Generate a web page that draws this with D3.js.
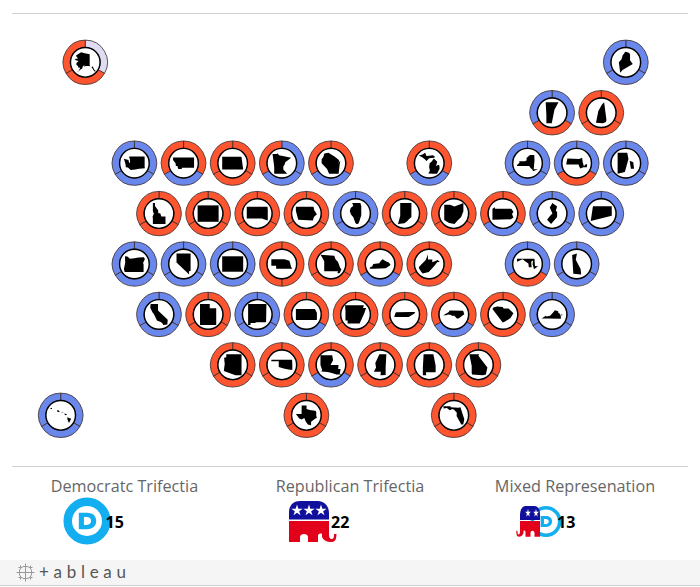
<!DOCTYPE html>
<html>
<head>
<meta charset="utf-8">
<script src="https://d3js.org/d3.v7.min.js"></script>
<style>
  html, body { margin: 0; padding: 0; background: #fff; }
  svg { display: block; }
</style>
</head>
<body>
<svg id="chart" width="700" height="587"></svg>
<script>
// tile map: half-column and row of every state, plus party of each ring segment
var stateCodes = ['AK','ME','VT','NH','WA','MT','ND','MN','WI','MI','NY','MA','RI','ID','WY','SD','IA','IL','IN','OH','PA','NJ','CT','OR','NV','CO','NE','MO','KY','WV','MD','DE','CA','UT','NM','KS','AR','TN','NC','SC','VA','AZ','OK','LA','MS','AL','GA','HI','TX','FL'];
var gridCols   = [1,23,20,22,3,5,7,9,11,15,19,21,23,4,6,8,10,12,14,16,18,20,22,3,5,7,9,11,13,15,19,21,4,6,8,10,12,14,16,18,20,7,9,11,13,15,17,0,10,16];
var gridRows   = [0,0,1,1,2,2,2,2,2,2,2,2,2,3,3,3,3,3,3,3,3,3,3,4,4,4,4,4,4,4,4,4,5,5,5,5,5,5,5,5,5,6,6,6,6,6,6,7,7,7];
var firstArc   = ['I','D','D','R','D','R','R','D','R','R','D','D','D','R','R','R','R','D','R','R','R','D','D','D','D','D','R','R','R','R','D','D','D','R','D','R','R','R','R','R','D','R','R','R','R','R','R','D','R','R'];
var secondArc  = ['R','D','R','R','D','D','R','D','D','D','D','R','D','R','R','R','R','D','R','R','D','D','D','D','D','D','R','R','D','R','R','D','D','R','D','D','R','R','D','R','D','R','R','D','R','R','R','D','R','R'];
var thirdArc   = ['R','D','D','R','D','R','R','R','R','R','D','D','D','R','R','R','R','D','R','R','R','D','D','D','D','D','','R','R','R','D','D','D','R','D','R','R','R','R','R','D','R','R','R','R','R','R','D','R','R'];

var legendTitles = ['Democratc Trifectia', 'Republican Trifectia', 'Mixed Represenation'];
var legendCounts = [15, 22, 13];

// state silhouettes, lon/lat rings
var outlines = {
  AK: [[[-141,69.6],[-141,60.3],[-137.5,58.9],[-135.5,59.7],[-133,57],[-130,55.9],[-131.5,55.2],[-134,56.5],[-136.5,58.3],[-139.5,59.7],[-144,60],[-148,60],[-151.5,59.3],[-150.2,61],[-153.5,59.5],[-154.5,58],[-157.5,57],[-163,55],[-164.5,54.7],[-161,56],[-158,58.5],[-162,58.7],[-162,60],[-165,60.8],[-165,62.5],[-161,64],[-166,64.6],[-168,65.7],[-162,66.2],[-166,68.3],[-163,69.5],[-156.5,71.3],[-150,70.5]]],
  ME: [[[-71.1,45.3],[-70.3,45.9],[-70,46.7],[-69.2,47.45],[-68.3,47.3],[-67.8,47],[-67.8,45.7],[-67,44.9],[-68.5,44.3],[-70,43.7],[-70.7,43.1]]],
  VT: [[[-73.4,45],[-71.5,45],[-72.1,44.2],[-72.5,42.75],[-73.3,42.75],[-73.3,43.6]]],
  NH: [[[-71.5,45],[-71.1,45.3],[-70.7,43.1],[-70.8,42.85],[-71.3,42.7],[-72.5,42.75],[-72.1,44.2]]],
  WA: [[[-124.7,48.4],[-123,48.1],[-122.7,47.3],[-122.4,47.5],[-122.5,48.3],[-122.8,49],[-117,49],[-117,46.4],[-116.9,46],[-119,45.9],[-120.5,45.7],[-122.2,45.6],[-123.2,46.2],[-124,46.3],[-124.1,47]]],
  MT: [[[-116,49],[-104,49],[-104,45],[-111,45],[-111,44.5],[-113,44.5],[-113.5,45.6],[-114.4,45.6],[-114.5,46.6],[-116,48]]],
  ND: [[[-104,49],[-97.2,49],[-96.6,46],[-104,46]]],
  MN: [[[-97.2,49],[-95.2,49],[-95.2,49.4],[-94.6,48.7],[-92.5,48.4],[-89.6,48],[-92,46.7],[-92.3,46],[-92.8,45.5],[-92.8,44.7],[-91.2,43.5],[-96.5,43.5],[-96.5,45.3],[-96.6,46]]],
  WI: [[[-92,46.7],[-90.8,46.9],[-89,46.1],[-87.8,45.4],[-87.6,45.1],[-88,44.6],[-87.3,45.2],[-87.5,44.3],[-87.8,42.5],[-90.6,42.5],[-91.2,43.5],[-92.8,44.7],[-92.8,45.5],[-92.3,46]]],
  MI: [[[-86.8,41.76],[-84.8,41.7],[-83.5,41.7],[-83.1,42.2],[-82.5,43],[-82.6,43.9],[-83,44.1],[-83.9,43.7],[-83.4,44.9],[-84.7,45.8],[-85.5,45],[-86.3,44.5],[-86.5,43.5],[-86.2,42.5]],
       [[-90.4,46.6],[-89,46.9],[-88,47.4],[-87.5,46.5],[-85,46.7],[-84.2,46.2],[-84.7,46],[-86.5,45.9],[-87.6,45.1],[-87.8,45.4],[-89,46.1]]],
  NY: [[[-79.8,42],[-79.8,42.3],[-78.9,42.9],[-79,43.3],[-76.8,43.3],[-76.2,43.6],[-76.3,44.2],[-75,45],[-73.4,45],[-73.3,43.6],[-73.5,42],[-73.6,41.1],[-72,41.1],[-73.9,40.55],[-74,41],[-74.7,41.4],[-75.3,42]]],
  MA: [[[-73.5,42],[-73.3,42.75],[-71.3,42.7],[-70.8,42.85],[-70.7,42.3],[-70.5,41.8],[-70.2,42.05],[-69.95,42.05],[-70,41.65],[-70.6,41.65],[-71.1,41.5],[-71.3,41.75],[-71.4,42],[-71.8,42]]],
  RI: [[[-71.8,42],[-71.4,42],[-71.35,41.8],[-71.5,41.4],[-71.8,41.35]],[[-71.3,41.75],[-71.15,41.7],[-71.12,41.5],[-71.25,41.5]]],
  ID: [[[-117,49],[-116,49],[-116,48],[-114.5,46.6],[-114.4,45.6],[-113.5,45.6],[-113,44.5],[-111,44.5],[-111,42],[-117,42],[-117,44],[-117.2,44.4],[-116.5,45.5],[-116.9,46],[-117,46.4]]],
  WY: [[[-111,45],[-104,45],[-104,41],[-111,41]]],
  SD: [[[-104,46],[-96.6,46],[-96.5,45.3],[-96.5,42.5],[-97.9,42.8],[-98.5,43],[-104,43]]],
  IA: [[[-96.5,43.5],[-91.2,43.5],[-91,42.7],[-90.2,41.8],[-91.1,41.2],[-91.4,40.4],[-95.8,40.6],[-96.5,42.5]]],
  IL: [[[-90.6,42.5],[-87.8,42.5],[-87.5,41.7],[-87.5,39.3],[-87.9,38.3],[-88.1,37.8],[-88.5,37.1],[-89.1,37],[-89.5,37.3],[-90.2,38.8],[-91,39.5],[-91.4,40.4],[-91.1,41.2],[-90.2,41.8]]],
  IN: [[[-87.5,41.7],[-84.8,41.7],[-84.8,39.1],[-85.4,38.7],[-85.9,38.3],[-86.5,37.95],[-88.05,37.8],[-87.5,39.3]]],
  OH: [[[-84.8,41.7],[-83.5,41.7],[-82.5,41.4],[-81.2,41.8],[-80.5,42],[-80.5,40.6],[-81,39.6],[-81.8,39],[-82.5,38.4],[-83.7,38.6],[-84.8,39.1]]],
  PA: [[[-80.5,42],[-79.8,42.3],[-79.8,42],[-75.3,42],[-74.7,41.4],[-75.1,40.9],[-74.7,40.2],[-75.4,39.8],[-80.5,39.7]]],
  NJ: [[[-74.7,41.4],[-74,41],[-74.2,40.5],[-74,40.4],[-74,39.8],[-74.9,39],[-75.5,39.5],[-75.1,39.9],[-74.7,40.2],[-75.1,40.9]]],
  CT: [[[-73.5,42],[-71.8,42],[-71.8,41.35],[-73.7,41]]],
  OR: [[[-124.1,46.3],[-123.2,46.2],[-122.2,45.6],[-120.5,45.7],[-119,45.9],[-116.9,46],[-116.5,45.5],[-117.2,44.4],[-117,44],[-117,42],[-124.2,42],[-124.5,42.8],[-124,44.5]]],
  NV: [[[-120,42],[-114,42],[-114,36.2],[-114.7,36.1],[-114.6,35],[-120,39]]],
  CO: [[[-109,41],[-102,41],[-102,37],[-109,37]]],
  NE: [[[-104,43],[-98.5,43],[-97.9,42.8],[-96.5,42.5],[-95.8,40.6],[-95.3,40],[-102,40],[-102,41],[-104,41]]],
  MO: [[[-95.8,40.6],[-91.4,40.4],[-91,39.5],[-90.2,38.8],[-89.5,37.3],[-89.1,37],[-89.7,36],[-90.4,36],[-90.2,36.5],[-94.6,36.5],[-94.6,39],[-95.3,40]]],
  KY: [[[-89.4,36.5],[-88,36.5],[-83.7,36.6],[-82,37.5],[-82.6,38.2],[-83.7,38.6],[-84.8,39.1],[-85.4,38.7],[-86,38],[-88.1,37.8],[-88.5,37.1],[-89.1,37]]],
  WV: [[[-82.6,38.2],[-82,37.5],[-81.7,37.2],[-80.3,37.5],[-79,38.6],[-78.4,39.2],[-77.8,39.3],[-78.3,39.6],[-79.5,39.2],[-79.5,39.7],[-80.5,39.7],[-80.5,40.6],[-81,39.6],[-81.8,39],[-82.5,38.4]]],
  MD: [[[-79.5,39.7],[-75.8,39.7],[-75.7,38.5],[-75.05,38.45],[-75.9,37.95],[-76.2,38.8],[-76.1,39.4],[-76.5,39.2],[-76.4,38.3],[-77,38.3],[-77.1,38.9],[-77.8,39.3],[-78.3,39.6],[-79.5,39.2]]],
  DE: [[[-75.8,39.7],[-75.4,39.8],[-75.5,39.4],[-75.1,38.8],[-75.05,38.45],[-75.7,38.5]]],
  CA: [[[-124.2,42],[-120,42],[-120,39],[-114.6,35],[-114.5,34.5],[-114.7,32.7],[-117.1,32.5],[-117.3,33],[-118.4,33.8],[-119.2,34.1],[-120.6,34.5],[-121.8,36.5],[-122.5,37.6],[-123,38],[-123.8,39.3],[-124.4,40.3]]],
  UT: [[[-114,42],[-111,42],[-111,41],[-109,41],[-109,37],[-114,37]]],
  NM: [[[-109,37],[-103,37],[-103.1,32],[-106.6,32],[-106.5,31.8],[-108.2,31.8],[-108.2,31.3],[-109,31.3]]],
  KS: [[[-102,40],[-95.3,40],[-94.6,39],[-94.6,37],[-102,37]]],
  AR: [[[-94.6,36.5],[-90.2,36.5],[-90.4,36],[-89.7,36],[-90.1,35],[-91.2,33],[-94,33],[-94,33.6],[-94.5,33.6],[-94.5,35.4]]],
  TN: [[[-89.7,36],[-89.4,36.5],[-83.7,36.6],[-81.7,36.6],[-82,36.1],[-84.3,35],[-90.1,35]]],
  NC: [[[-84.3,35],[-83.1,35],[-82.3,35.2],[-81,35.1],[-80.8,34.8],[-79.7,34.8],[-78.6,33.9],[-77.9,33.9],[-76.5,34.7],[-75.5,35.3],[-76,36.55],[-81.7,36.6],[-82,36.1]]],
  SC: [[[-83.1,35],[-82.3,35.2],[-81,35.1],[-80.8,34.8],[-79.7,34.8],[-78.6,33.9],[-79.3,33],[-80.7,32.3],[-81,32.2],[-83.3,34.7]]],
  VA: [[[-83.7,36.6],[-81.7,36.6],[-76,36.55],[-76,37.2],[-76.3,38],[-77,38.4],[-77.1,38.9],[-78.4,39.2],[-79,38.6],[-80.3,37.5],[-81.7,37.2],[-82,37.5]],
       [[-75.9,37.2],[-75.3,38],[-75.7,37.9]]],
  AZ: [[[-114.7,36.1],[-114,36.2],[-114,37],[-109,37],[-109,31.3],[-111,31.3],[-114.8,32.5],[-114.5,34.5],[-114.6,35]]],
  OK: [[[-103,37],[-94.6,37],[-94.5,35.4],[-94.5,33.6],[-96,33.8],[-98,34.1],[-100,34.6],[-100,36.5],[-103,36.5]]],
  LA: [[[-94,33],[-91.2,33],[-91,32],[-91.6,31],[-89.7,31],[-89.8,30.2],[-89.2,30.2],[-89.4,29.3],[-89,29.1],[-90.2,29.1],[-91.3,29.4],[-92.3,29.6],[-93.8,29.7],[-93.6,30],[-94,31]]],
  MS: [[[-91.2,33],[-90.1,35],[-88.2,35],[-88.4,32],[-88.4,30.3],[-89.8,30.2],[-89.7,31],[-91.6,31],[-91,32]]],
  AL: [[[-88.2,35],[-85.6,35],[-85,32.5],[-85,31],[-87.6,31],[-87.5,30.3],[-88.4,30.3],[-88.4,32]]],
  GA: [[[-85.6,35],[-83.1,35],[-83.3,34.7],[-81,32.2],[-81.4,30.7],[-82.2,30.5],[-84.9,30.7],[-85,31],[-85,32.5]]],
  HI: [[[-156,20.2],[-155.1,19.9],[-155.6,19],[-155.9,19.6]],[[-156.7,20.9],[-156.3,20.95],[-156,20.7],[-156.4,20.6]],[[-157.3,21.2],[-156.7,21.15],[-157.2,21.1]],[[-158.3,21.55],[-158,21.7],[-157.65,21.3],[-158.1,21.3]],[[-159.8,22.1],[-159.4,22.2],[-159.4,21.9],[-159.7,21.9]]],
  TX: [[[-106.6,32],[-103.1,32],[-103,36.5],[-100,36.5],[-100,34.6],[-98,34.1],[-96,33.8],[-94.5,33.6],[-94,33],[-94,31],[-93.6,30],[-94.7,29.4],[-97.2,27.8],[-97.2,26],[-99.2,26.4],[-100.5,28],[-101.4,29.8],[-103,29],[-104.5,29.6],[-106.5,31.8]]],
  FL: [[[-87.6,31],[-85,31],[-84.9,30.7],[-82.2,30.5],[-81.4,30.7],[-80.5,28.2],[-80,26.8],[-80.4,25.2],[-81.1,25.2],[-81.8,26.3],[-82.8,27.9],[-82.7,28.9],[-83.7,29.9],[-84.3,30.1],[-85.3,29.7],[-86.3,30.4],[-87.5,30.3]]]
};

var partyColor = { D: '#6a88ec', R: '#fd5530', I: '#dfdbf3' };

var svg = d3.select('#chart');

var x = d3.scaleLinear().domain([0, 23]).range([60.7, 625.8]);
var y = d3.scaleLinear().domain([0, 7]).range([62.3, 415.3]);

var arc = d3.arc().innerRadius(15).outerRadius(22.2);
var pie = d3.pie().sort(null).value(function() { return 1; });
var ring = d3.line();

// separators
svg.append('rect').attr('x', 0).attr('y', 560).attr('width', 700).attr('height', 25).attr('fill', '#f5f5f5');
svg.append('rect').attr('x', 0).attr('y', 585).attr('width', 700).attr('height', 1).attr('fill', '#d0d0d0');
svg.append('rect').attr('x', 12).attr('y', 13).attr('width', 676).attr('height', 1).attr('fill', '#d2d2d2');
svg.append('rect').attr('x', 12).attr('y', 466).attr('width', 676).attr('height', 1).attr('fill', '#d2d2d2');

function drawShape (g, rings) {
  var pts = d3.merge(rings);
  var lons = d3.extent(pts, function(p) { return p[0]; });
  var lats = d3.extent(pts, function(p) { return p[1]; });
  var k = Math.cos((lats[0] + lats[1]) / 2 * Math.PI / 180);
  var w = (lons[1] - lons[0]) * k, h = lats[1] - lats[0];
  var size = 21 / Math.max(w, h);
  var sx = d3.scaleLinear().domain(lons).range([-w * size / 2, w * size / 2]);
  var sy = d3.scaleLinear().domain(lats).range([h * size / 2, -h * size / 2]);
  ring.x(function(p) { return sx(p[0]); }).y(function(p) { return sy(p[1]); });
  g.selectAll('path.shape')
    .data(rings)
    .enter().append('path')
    .attr('class', 'shape')
    .attr('d', function(r) { return ring(r) + 'Z'; })
    .attr('fill', '#000');
}

for (var i = 0; i < stateCodes.length; ++i) {
  var parties = [firstArc[i], secondArc[i]];
  if (thirdArc[i]) parties.push(thirdArc[i]);

  var g = svg.append('g')
    .attr('transform', 'translate(' + x(gridCols[i]) + ',' + y(gridRows[i]) + ')');

  g.selectAll('path.seg')
    .data(pie(parties))
    .enter().append('path')
    .attr('class', 'seg')
    .attr('d', arc)
    .attr('fill', function(d) { return partyColor[d.data]; })
    .attr('stroke', '#3a2a2a')
    .attr('stroke-width', 0.8);

  g.append('circle')
    .attr('r', 14.8)
    .attr('fill', '#fff')
    .attr('stroke', '#000')
    .attr('stroke-width', 1.4);

  drawShape(g, outlines[stateCodes[i]]);
}

// legend
var titleX = [124.5, 350, 575];
var countX = [105.5, 331, 557];
svg.selectAll('text.title')
  .data(legendTitles)
  .enter().append('text')
  .attr('class', 'title')
  .attr('x', function(d, i) { return titleX[i]; })
  .attr('y', 492)
  .attr('text-anchor', 'middle')
  .attr('font-family', 'Open Sans')
  .attr('font-size', 16.2)
  .attr('fill', '#666')
  .text(function(d) { return d; });

var elephantDome = 'M0,18.5 L0,11 C0,4 5,0 11,0 L29,0 C35,0 40,5 40,12 L40,18.5 Z';
var elephantBody = 'M0,20 L40,20 L40,33 C40,37 41,38 43,38 C45,38 45,35 45,33 L47.5,33 C47.5,38 46,41 43,41 C38,41 35,40 33,36 L33,33 C31.5,32 30,33 29,34 L29,41 L19,41 L19,36 C19,32 11,32 11,36 L11,41 L0,41 Z';
var stars = [8, 20, 32];

function drawElephant (parent, tx, ty, sx, sy, starList) {
  var e = parent.append('g')
    .attr('transform', 'translate(' + tx + ',' + ty + ') scale(' + sx + ',' + sy + ')');
  e.append('path').attr('d', elephantDome).attr('fill', '#10109c');
  e.append('path').attr('d', elephantBody).attr('fill', '#e2001a');
  e.selectAll('path.star')
    .data(starList)
    .enter().append('path')
    .attr('class', 'star')
    .attr('d', d3.symbol().type(d3.symbolStar).size(40))
    .attr('transform', function(d) { return 'translate(' + d + ',9.5)'; })
    .attr('fill', '#fff');
}

function drawDem (parent, cx, cy, r, t) {
  var d = parent.append('g').attr('transform', 'translate(' + cx + ',' + cy + ')');
  d.append('circle').attr('r', r - t / 2).attr('fill', 'none').attr('stroke', '#12aef0').attr('stroke-width', t);
  var s = r / 23;
  d.append('path')
    .attr('d', 'M-8,-8 L0,-8 C6,-8 9,-4.5 9,0 C9,4.5 6,8 0,8 L-8,8 Z M-3,-3.8 L-3,3.8 L-0.5,3.8 C2.5,3.8 4,2.3 4,0 C4,-2.3 2.5,-3.8 -0.5,-3.8 Z')
    .attr('fill-rule', 'evenodd')
    .attr('fill', '#12aef0')
    .attr('transform', 'scale(' + s + ')');
}

drawDem(svg, 87, 521, 23.5, 8.5);
drawElephant(svg, 289, 501, 1, 1, stars);
drawDem(svg, 546, 521.5, 15.5, 3.6);
drawElephant(svg, 540, 506, -0.5, 0.75, [8, 24]);

svg.selectAll('text.count')
  .data(legendCounts)
  .enter().append('text')
  .attr('class', 'count')
  .attr('x', function(d, i) { return countX[i]; })
  .attr('y', 527.5)
  .attr('font-family', 'Open Sans')
  .attr('font-weight', 700)
  .attr('font-size', 16)
  .attr('fill', '#000')
  .text(function(d) { return d; });

// tableau footer mark
var logoCross = [[0,0,5],[0,-6,3],[0,6,3],[-6,0,3],[6,0,3],[-5,-5,2],[5,-5,2],[-5,5,2],[5,5,2]];
var logo = svg.append('g').attr('transform', 'translate(25.5,572.5)').attr('stroke', '#999').attr('stroke-width', 1);
logo.selectAll('path')
  .data(logoCross)
  .enter().append('path')
  .attr('d', function(c) { return 'M' + (c[0] - c[2]) + ',' + c[1] + 'H' + (c[0] + c[2]) + 'M' + c[0] + ',' + (c[1] - c[2]) + 'V' + (c[1] + c[2]); });

svg.append('text')
  .attr('x', 39)
  .attr('y', 578)
  .attr('font-family', 'Lato')
  .attr('font-size', 17)
  .attr('letter-spacing', 4.7)
  .attr('fill', '#555')
  .text('+ableau');
</script>
</body>
</html>
